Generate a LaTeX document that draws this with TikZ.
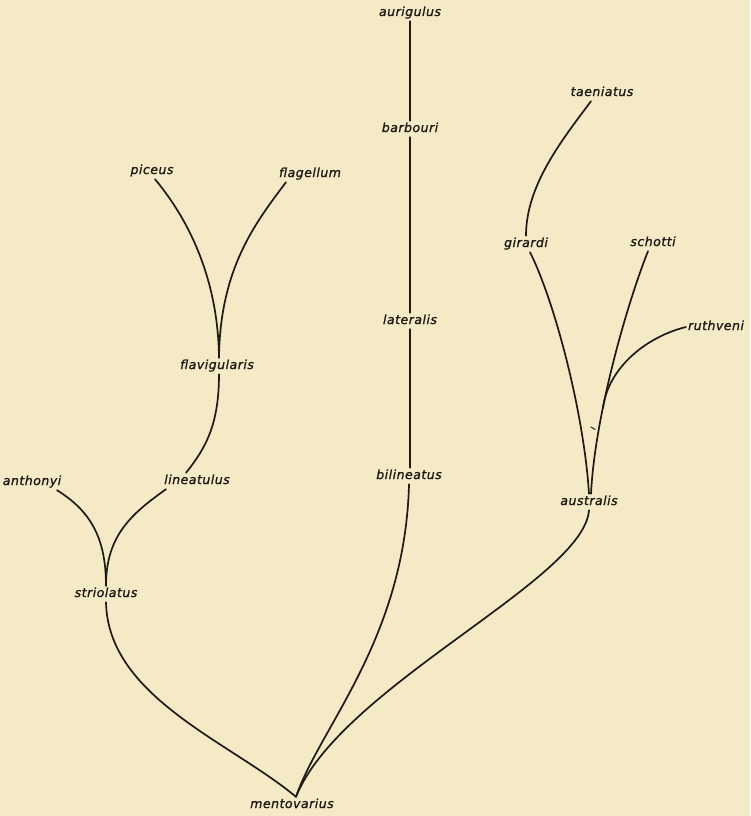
\documentclass[tikz,border=0pt]{standalone}
\usepackage{fontspec}
\setmainfont{DejaVu Sans}[LetterSpace=4,FakeBold=1.2]
\definecolor{paper}{HTML}{F4EAC6}
\definecolor{ink}{HTML}{1E1A16}
\begin{document}
\begin{tikzpicture}[x=1pt,y=-1pt,
  lbl/.style={font=\itshape\fontsize{12.5}{13}\selectfont, text=ink, inner xsep=1pt, inner ysep=3pt, text height=8pt, text depth=2pt},
  br/.style={draw=ink, line width=1.7pt, line cap=round}]
\fill[paper] (0,0) rectangle (750,816);
\useasboundingbox (0,0) rectangle (750,816);
% labels
\node[lbl] (aurigulus) at (410,13) {aurigulus};
\node[lbl] (barbouri) at (410,129) {barbouri};
\node[lbl] (lateralis) at (410,321) {lateralis};
\node[lbl] (bilineatus) at (409,476) {bilineatus};
\node[lbl] (taeniatus) at (602,93) {taeniatus};
\node[lbl] (girardi) at (526,244) {girardi};
\node[lbl] (schotti) at (653,243) {schotti};
\node[lbl] (ruthveni) at (716,327) {ruthveni};
\node[lbl] (australis) at (589,502) {australis};
\node[lbl] (piceus) at (152,171) {piceus};
\node[lbl] (flagellum) at (310,174) {flagellum};
\node[lbl] (flavigularis) at (217,366) {flavigularis};
\node[lbl] (lineatulus) at (197,481) {lineatulus};
\node[lbl] (anthonyi) at (32,482) {anthonyi};
\node[lbl] (striolatus) at (106,594) {striolatus};
\node[lbl] (mentovarius) at (292,805) {mentovarius};
\coordinate (rj) at (603,408);
% vertical stem
\draw[br] (aurigulus.south) -- (barbouri.north);
\draw[br] (barbouri.south) -- (lateralis.north);
\draw[br] (lateralis.south) -- ([xshift=1pt]bilineatus.north);
% left group
\draw[br] ([xshift=3pt]piceus.south) .. controls +(25,30) and +(-1,-90) .. ([xshift=2pt]flavigularis.north);
\draw[br] ([xshift=-24pt]flagellum.south) .. controls +(-30,40) and +(1,-90) .. ([xshift=2pt]flavigularis.north);
\draw[br] ([xshift=2pt]flavigularis.south) .. controls +(0,50) and +(20,-25) .. ([xshift=-11pt]lineatulus.north);
\draw[br] ([xshift=25pt]anthonyi.south) .. controls +(32,20) and +(0,-50) .. (striolatus.north);
\draw[br] ([xshift=-31pt]lineatulus.south) .. controls +(-35,25) and +(0,-50) .. (striolatus.north);
% to mentovarius
\draw[br] (striolatus.south) .. controls +(2,95) and +(-66,-55) .. ([xshift=4pt]mentovarius.north);
\draw[br] (bilineatus.south) .. controls +(-4,155) and +(24,-70) .. ([xshift=4pt]mentovarius.north);
\draw[br] (australis.south) .. controls +(-5,70) and +(44,-110) .. ([xshift=4pt]mentovarius.north);
% right group
\draw[br] ([xshift=-11pt]taeniatus.south) .. controls +(-30,40) and +(0,-50) .. (girardi.north);
\draw[br] ([xshift=4pt]girardi.south) .. controls +(25,50) and +(-5,-80) .. (australis.north);
\draw[br] ([xshift=-5pt]schotti.south) .. controls +(-20,50) and +(4,-80) .. ([xshift=2pt]australis.north);
\draw[br] ([xshift=-1pt]ruthveni.west) .. controls +(-40,10) and +(5,-40) .. (rj);
\draw[br, line width=1pt] (591,427) -- (595,429.5);
\end{tikzpicture}
\end{document}
